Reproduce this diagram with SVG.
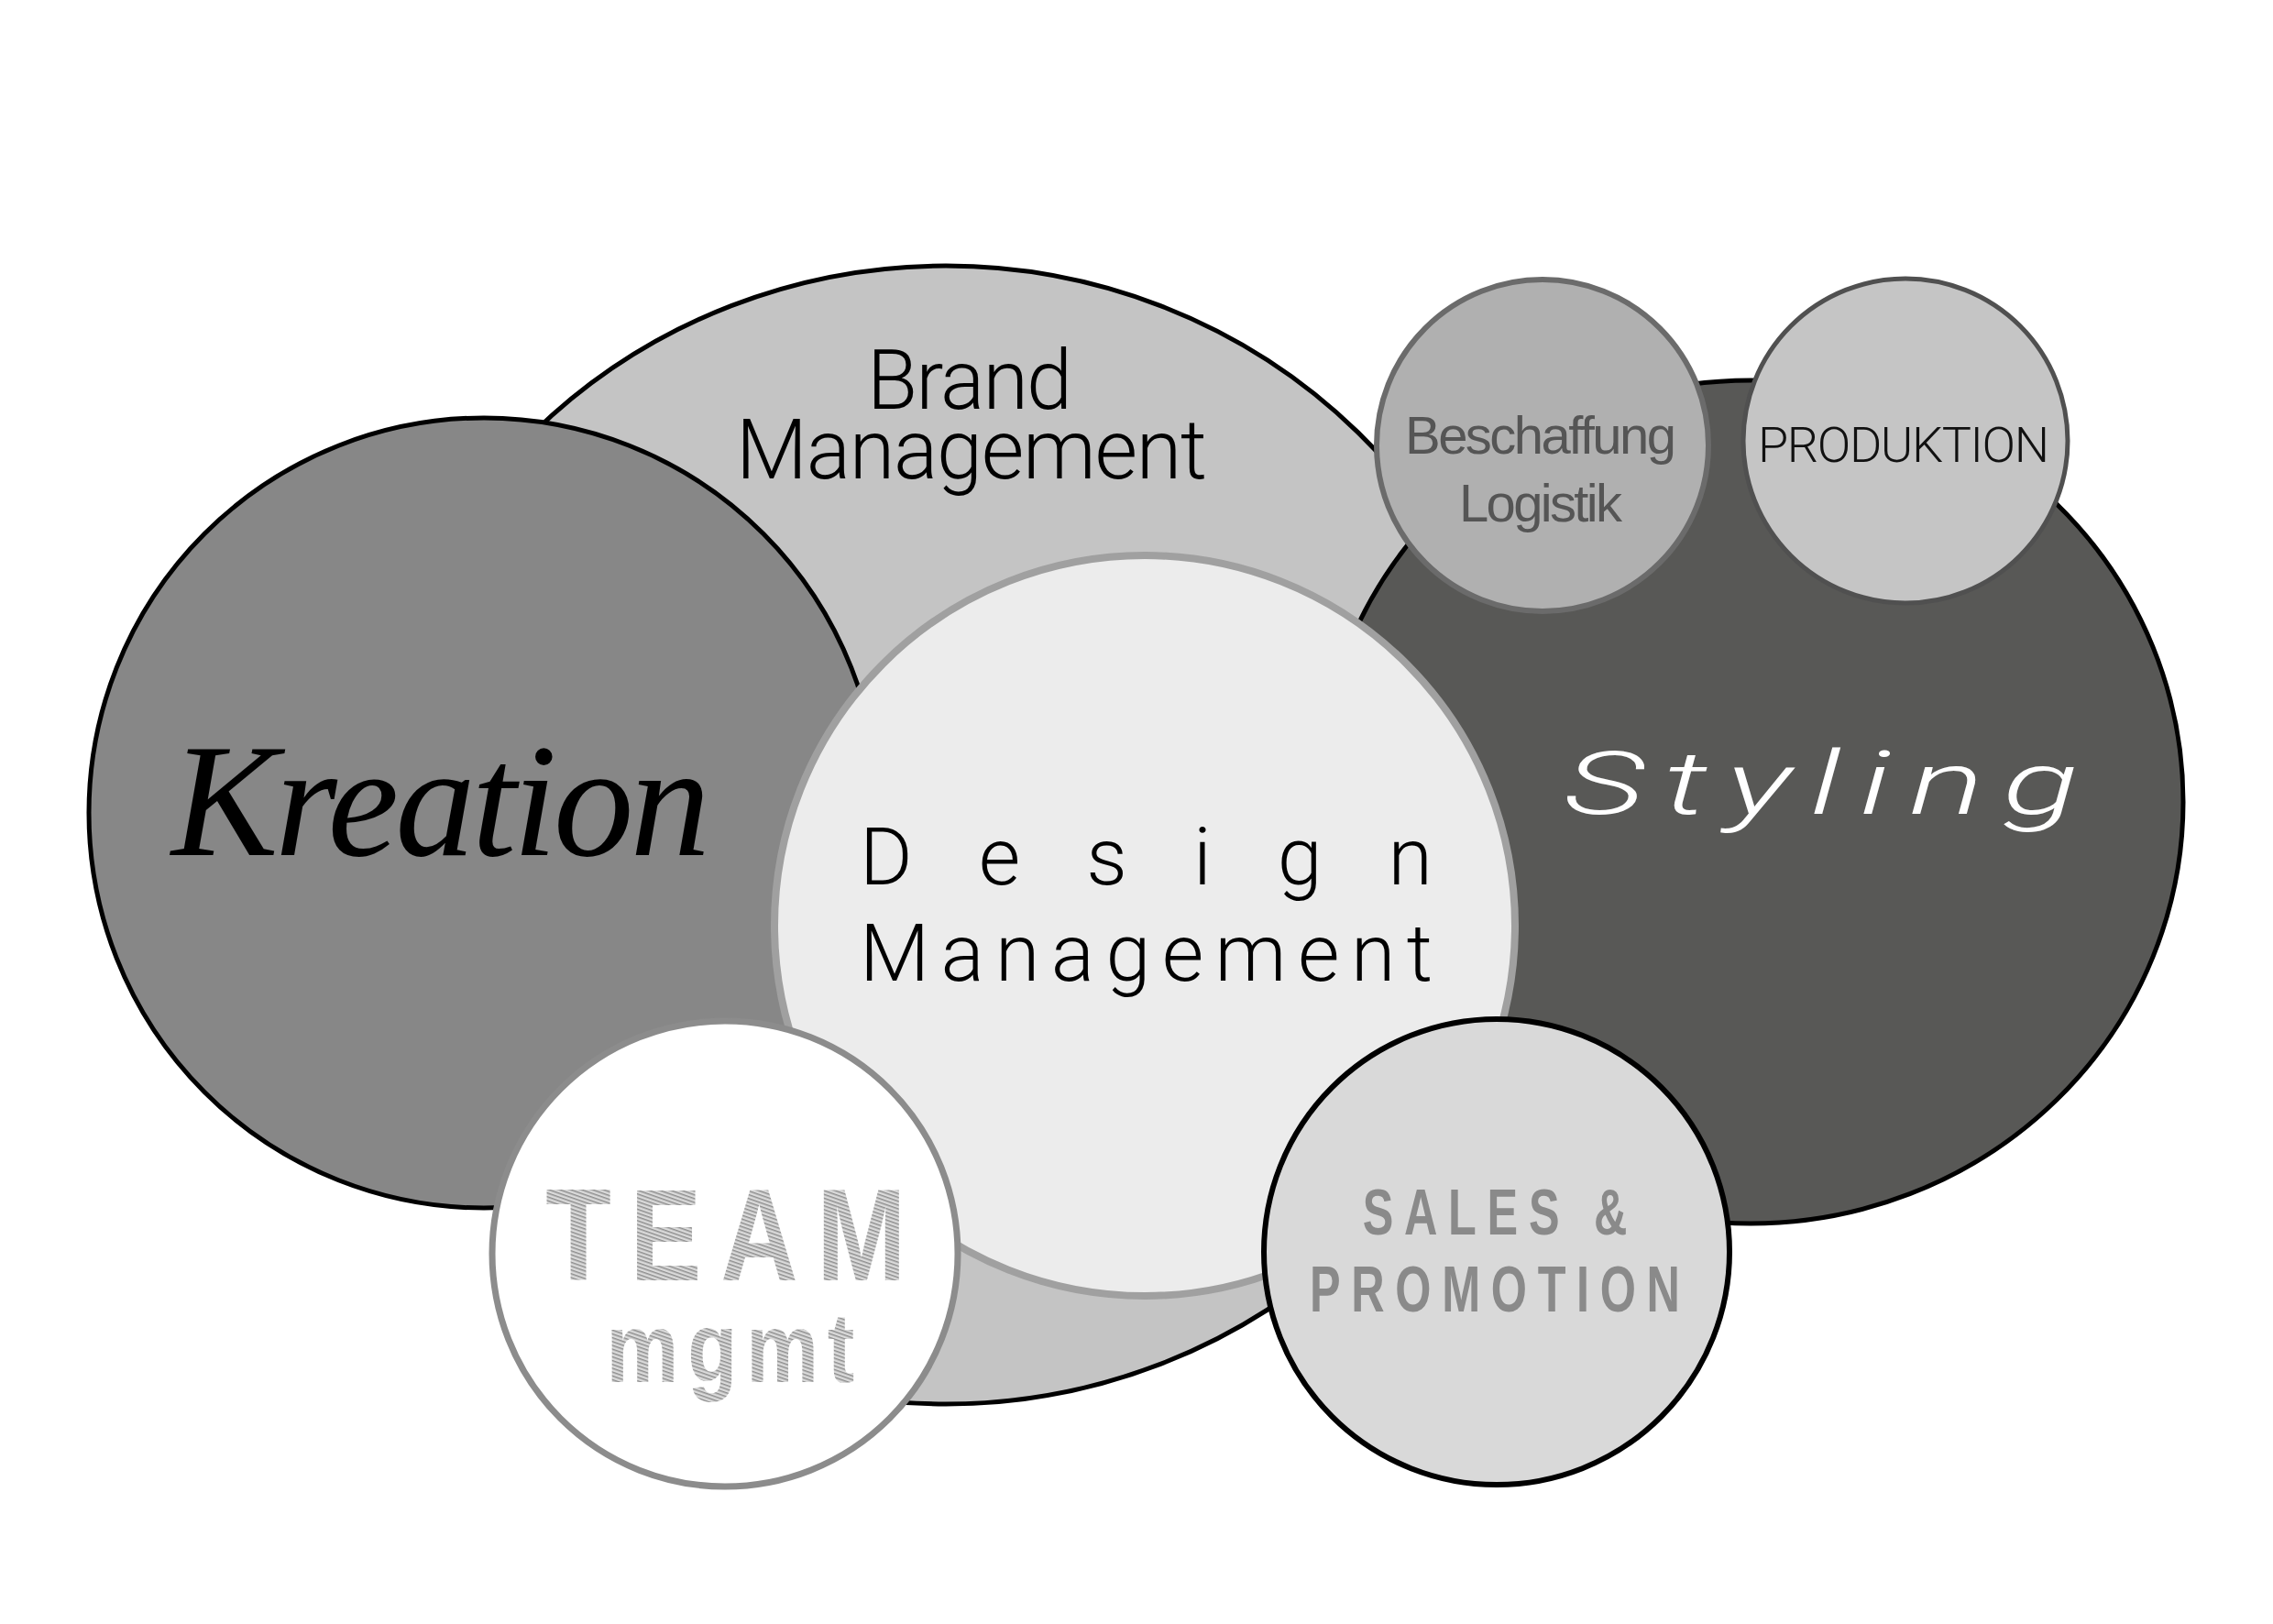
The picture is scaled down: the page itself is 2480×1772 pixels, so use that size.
<svg xmlns="http://www.w3.org/2000/svg" width="2480" height="1772" viewBox="0 0 2480 1772">
<style>
.blk{stroke:#000;stroke-width:5}
.light{font-family:Roboto,"Liberation Sans",sans-serif;font-weight:300}
.script{font-family:"Liberation Serif",serif;font-style:italic}
.sales{font-family:"Liberation Sans",sans-serif;font-weight:bold;fill:#8a8a8a;font-size:70px}
.team{font-family:"Liberation Sans",sans-serif;font-weight:bold;fill:url(#hatch)}
</style>
<defs>
<pattern id="hatch" patternUnits="userSpaceOnUse" width="40" height="4" patternTransform="rotate(16)">
<rect width="40" height="4" fill="#dadada"/>
<rect width="40" height="1.5" fill="#8e8e8e"/>
</pattern>
</defs>
<rect width="2480" height="1772" fill="#fff"/>
<g id="brand">
<ellipse cx="1032" cy="911" rx="636" ry="621" fill="#c4c4c4" class="blk"/>
<text class="light" x="1058" y="446" font-size="90" text-anchor="middle" textLength="224" fill="#000">Brand</text>
<text class="light" x="1060" y="522" font-size="90" text-anchor="middle" textLength="514" fill="#000">Management</text>
</g>
<g id="kreation">
<circle cx="528" cy="887" r="431" fill="#878787" class="blk"/>
<text class="script" x="481" y="933" font-size="175" text-anchor="middle" textLength="588" fill="#000">Kreation</text>
</g>
<g id="styling">
<ellipse cx="1910" cy="875" rx="472" ry="460" fill="#585856" class="blk"/>
<g transform="translate(1987,888) scale(1.6,1)">
<text x="0" y="0" font-family="Roboto,'Liberation Sans',sans-serif" font-weight="300" font-style="italic" font-size="96" text-anchor="middle" textLength="351" fill="#fff">Styling</text>
</g>
</g>
<g id="design">
<circle cx="1249" cy="1010" r="404" fill="#ececec" stroke="#a0a0a0" stroke-width="8"/>
<text class="light" x="938" y="965" font-size="88" textLength="625" fill="#000">Design</text>
<text class="light" x="938" y="1070" font-size="88" textLength="625" fill="#000">Management</text>
</g>
<g id="beschaffung">
<circle cx="1683" cy="486" r="181" fill="#b0b0b0" stroke="#6b6b6b" stroke-width="6"/>
<text x="1681" y="495" font-family="Liberation Sans,sans-serif" font-size="58" text-anchor="middle" textLength="296" fill="#555">Beschaffung</text>
<text x="1681" y="569" font-family="Liberation Sans,sans-serif" font-size="58" text-anchor="middle" textLength="178" fill="#555">Logistik</text>
</g>
<g id="produktion">
<circle cx="2079" cy="481" r="177" fill="#c5c5c5" stroke="#505050" stroke-width="5"/>
<text class="light" x="2077" y="504" font-size="54" text-anchor="middle" textLength="318" fill="#111">PRODUKTION</text>
</g>
<g id="team">
<circle cx="791" cy="1368" r="254" fill="#fff" stroke="#8c8c8c" stroke-width="7"/>
<g transform="translate(792,0) scale(0.82,1)">
<text class="team" x="0" y="1397" font-size="143" text-anchor="middle" textLength="480">TEAM</text>
<text class="team" x="6" y="1508" font-size="108" text-anchor="middle" textLength="330">mgmt</text>
</g>
</g>
<g id="sales">
<circle cx="1633" cy="1366" r="254" fill="#d9d9d9" stroke="#000" stroke-width="6"/>
<g transform="translate(1631,0) scale(0.72,1)">
<text class="sales" x="0" y="1347" text-anchor="middle" textLength="401">SALES &amp;</text>
<text class="sales" x="0" y="1431" text-anchor="middle" textLength="561">PROMOTION</text>
</g>
</g>
<g id="connectors"/>
</svg>
